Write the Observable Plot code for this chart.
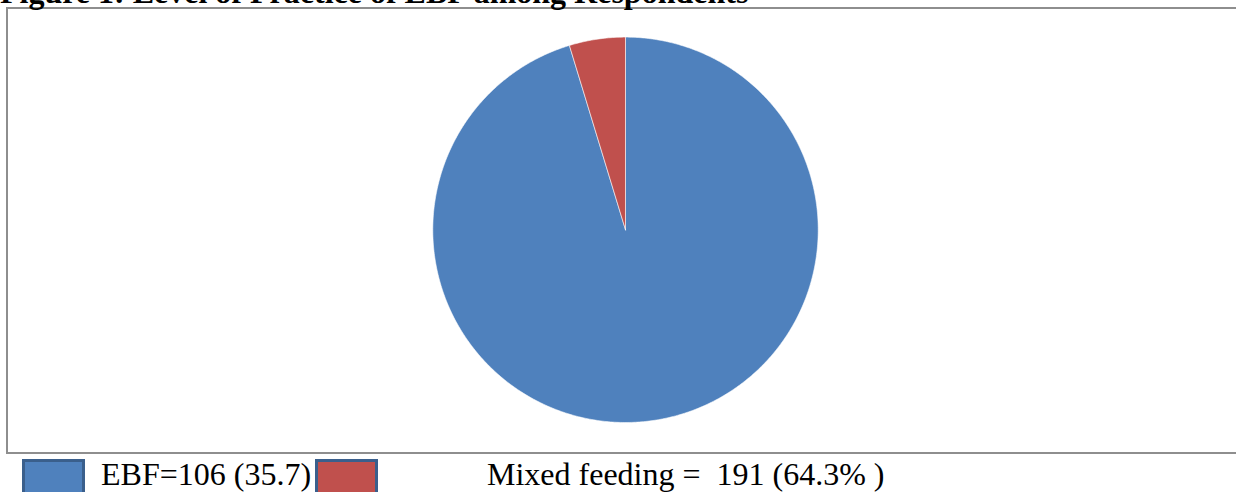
<!DOCTYPE html>
<html>
<head>
<meta charset="utf-8">
<script src="https://cdn.jsdelivr.net/npm/d3@7"></script>
<script src="https://cdn.jsdelivr.net/npm/@observablehq/plot@0.6"></script>
<style>
  html, body { margin: 0; padding: 0; background: #fff; }
  #wrap { position: relative; width: 1236px; height: 492px; overflow: hidden; font-family: "Liberation Serif", "Times New Roman", serif; }
  .txt { position: absolute; font-size: 32px; line-height: 1; white-space: pre; color: #000; }
  #frame { position: absolute; left: 6px; top: 7px; width: 1300px; height: 443px; border: 2px solid #8e8e8e; box-sizing: content-box; }
  .sw { position: absolute; top: 459px; width: 57px; height: 40px; border: 3px solid #3a5f8c; }
  #chart { position: absolute; left: 0; top: 0; }
</style>
</head>
<body>
<div id="wrap">
  <div id="frame"></div>
  <div id="chart"></div>
</div>
<script>
// ---- data ----
const categories = ["EBF", "Mixed feeding"];
const shares = [95.3, 4.7];            // slice sizes as drawn (percent of the circle)
const legendLabels = ["EBF=106 (35.7)", "Mixed feeding =  191 (64.3% )"];
const colors = ["#4f81bd", "#c0504d"];
const title = "Figure 1: Level of Practice of EBF among Respondents";

// ---- build slice polygons from the data ----
const pie = d3.pie().sort(null).value(d => d.v)(categories.map((c, i) => ({c, v: shares[i]})));
const pts = [];
for (const s of pie) {
  const n = Math.max(4, Math.ceil((s.endAngle - s.startAngle) / 0.01));
  pts.push({c: s.data.c, x: 0, y: 0});
  for (let k = 0; k <= n; k++) {
    const a = s.startAngle + (s.endAngle - s.startAngle) * k / n;
    pts.push({c: s.data.c, x: Math.sin(a), y: Math.cos(a)});
  }
  pts.push({c: s.data.c, x: 0, y: 0});
}

const cx = 625, cy = 229.3, r = 192.7, W = 1236, H = 460;
const chart = Plot.plot({
  width: W,
  height: H,
  marginLeft: cx - r,
  marginRight: W - (cx + r),
  marginTop: cy - r,
  marginBottom: H - (cy + r),
  x: {domain: [-1, 1], axis: null},
  y: {domain: [-1, 1], axis: null},
  color: {domain: categories, range: colors},
  style: {background: "transparent"},
  marks: [
    Plot.line(pts, {x: "x", y: "y", z: "c", fill: "c", stroke: "#ffffff", strokeWidth: 0.8, strokeOpacity: 0.7, curve: "linear-closed"})
  ]
});
document.getElementById("chart").appendChild(chart);

// ---- title & legend (HTML text) ----
const wrap = document.getElementById("wrap");
function addText(str, left, baseline, bold) {
  const d = document.createElement("div");
  d.className = "txt";
  d.textContent = str;
  d.style.left = left + "px";
  d.style.top = (baseline - 26.8) + "px";
  if (bold) d.style.fontWeight = "bold";
  wrap.appendChild(d);
}
addText(title, 0, 3, true);
const swLeft = [22, 315];
const txtLeft = [101, 487];
categories.forEach((c, i) => {
  const s = document.createElement("div");
  s.className = "sw";
  s.style.left = swLeft[i] + "px";
  s.style.background = colors[i];
  wrap.appendChild(s);
  addText(legendLabels[i], txtLeft[i], 485, false);
});
</script>
</body>
</html>
